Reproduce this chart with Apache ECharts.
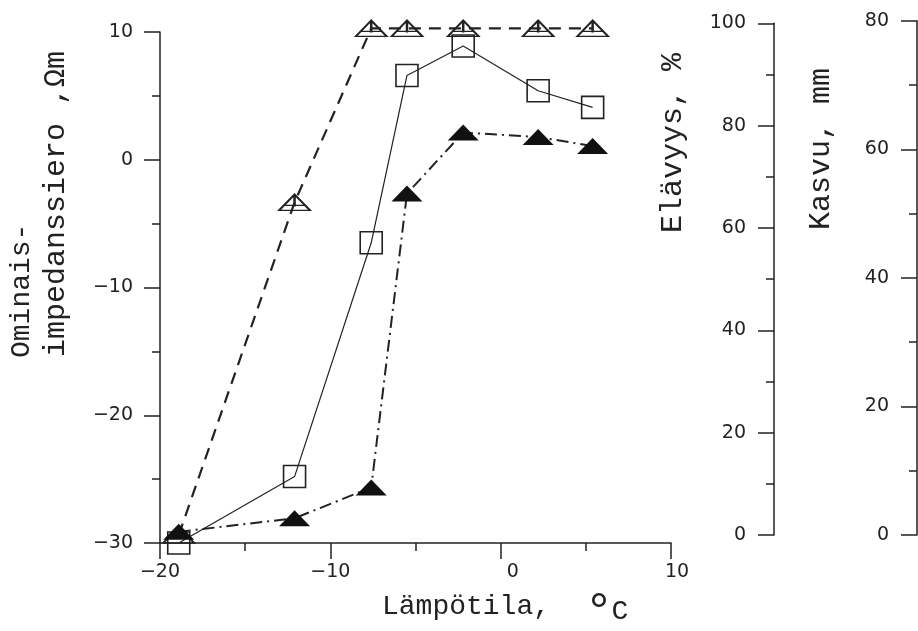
<!DOCTYPE html>
<html>
<head>
<meta charset="utf-8">
<script src="https://cdn.jsdelivr.net/npm/echarts@6/dist/echarts.min.js"></script>
<style>
  html, body { margin: 0; padding: 0; background: #fff; }
  #chart { width: 918px; height: 631px; }
</style>
</head>
<body>
<div id="chart"></div>
<script>
// ---- data ----
const temperature = [-18.9, -12.1, -7.6, -5.5, -2.2, 2.2, 5.4];      // Lämpötila, °C
const impedance   = [-30, -24.8, -6.5, 6.6, 8.9, 5.4, 4.1];          // Ominais-impedanssiero, Ωm (squares)
const survival    = [0, 65, 99, 99, 99, 99, 99];                     // Elävyys, % (open triangles)
const growth      = [0.5, 2.6, 7.4, 53.1, 62.6, 61.9, 60.5];         // Kasvu, mm (filled triangles)

const xTicks = [-20, -10, 0, 10];
const impTicks = [-30, -20, -10, 0, 10];
const survTicks = [0, 20, 40, 60, 80, 100];
const growTicks = [0, 20, 40, 60, 80];

const ink = '#222';
const labelFont = { color: ink, fontFamily: 'DejaVu Sans', fontSize: 19 };
const titleFont = '28px "Liberation Mono"';
const titleFontL = '30px "Liberation Mono"';

function minus(v) { return String(v).replace('-', '\u2212'); }
function pad3(v) {
  let s = minus(v);
  while (s.length < 3) s = '\u2007' + s;
  return s;
}
function pairs(xs, ys) { return xs.map((x, i) => [x, ys[i]]); }

const chart = echarts.init(document.getElementById('chart'), null, { renderer: 'canvas' });

function axisStyle() {
  return {
    axisLine: { show: true, onZero: false, lineStyle: { color: ink, width: 1.5 } },
    axisTick: { show: true, inside: false, length: 16, lineStyle: { color: ink, width: 1.5 } },
    minorTick: { show: true, splitNumber: 2, length: 8, lineStyle: { color: ink, width: 1.5 } },
    splitLine: { show: false },
    minorSplitLine: { show: false }
  };
}

const option = {
  animation: false,
  backgroundColor: '#fff',
  grid: [
    { left: 160, right: 247, top: 32, bottom: 88, containLabel: false, outerBoundsMode: 'none' },
    { left: 774, width: 10, top: 23.3, bottom: 96, containLabel: false, outerBoundsMode: 'none' },
    { left: 917, width: 1, top: 20.7, bottom: 96, containLabel: false, outerBoundsMode: 'none' }
  ],
  xAxis: [
    Object.assign({
      type: 'value', gridIndex: 0, min: xTicks[0], max: xTicks[xTicks.length - 1], interval: 10,
      position: 'bottom',
      axisLabel: Object.assign({ margin: 20, formatter: v => pad3(v) }, labelFont)
    }, axisStyle()),
    { type: 'value', gridIndex: 1, show: false, min: 0, max: 1 },
    { type: 'value', gridIndex: 2, show: false, min: 0, max: 1 }
  ],
  yAxis: [
    Object.assign({
      type: 'value', gridIndex: 0, min: impTicks[0], max: impTicks[impTicks.length - 1], interval: 10,
      position: 'left',
      axisLabel: Object.assign({ margin: 27, formatter: v => minus(v) }, labelFont)
    }, axisStyle()),
    // hidden scales in the plot area matching the right-hand axes
    { type: 'value', gridIndex: 0, show: false, min: -1.563, max: 98.30 },
    { type: 'value', gridIndex: 0, show: false, min: -1.244, max: 78.24 },
    Object.assign({
      type: 'value', gridIndex: 1, min: survTicks[0], max: survTicks[survTicks.length - 1], interval: 20,
      position: 'left',
      axisLabel: Object.assign({ margin: 28 }, labelFont)
    }, axisStyle()),
    Object.assign({
      type: 'value', gridIndex: 2, min: growTicks[0], max: growTicks[growTicks.length - 1], interval: 20,
      position: 'left',
      axisLabel: Object.assign({ margin: 28 }, labelFont)
    }, axisStyle())
  ],
  series: [
    {
      name: 'Elävyys', type: 'line', xAxisIndex: 0, yAxisIndex: 1,
      data: pairs(temperature, survival),
      clip: false,
      symbol: 'path://M0,16L16,0L32,16Z M16,0L16,12 M5,11L27,11',
      symbolSize: [31, 16],
      itemStyle: { color: 'rgba(255,255,255,0)', borderColor: ink, borderWidth: 1.8 },
      lineStyle: { color: ink, width: 2.2, type: [12, 8] },
      z: 3
    },
    {
      name: 'Ominais-impedanssiero', type: 'line', xAxisIndex: 0, yAxisIndex: 0,
      data: pairs(temperature, impedance),
      clip: false,
      symbol: 'rect', symbolSize: 22,
      itemStyle: { color: 'rgba(255,255,255,0)', borderColor: ink, borderWidth: 1.6 },
      lineStyle: { color: ink, width: 1.2, type: 'solid' },
      z: 4
    },
    {
      name: 'Kasvu', type: 'line', xAxisIndex: 0, yAxisIndex: 2,
      data: pairs(temperature, growth),
      clip: false,
      symbol: 'triangle', symbolSize: [31, 16],
      itemStyle: { color: '#111', borderColor: '#111', borderWidth: 0 },
      lineStyle: { color: ink, width: 2, type: [12, 5, 2, 5] },
      z: 5
    }
  ],
  graphic: [
    { type: 'text', x: 22, y: 358, rotation: Math.PI / 2,
      style: { text: 'Ominais-', font: titleFont, fill: ink, align: 'left', verticalAlign: 'middle' } },
    { type: 'text', x: 56, y: 357, rotation: Math.PI / 2,
      style: { text: 'impedanssiero ,Ωm', font: titleFontL, fill: ink, align: 'left', verticalAlign: 'middle' } },
    { type: 'text', x: 673, y: 233, rotation: Math.PI / 2,
      style: { text: 'Elävyys, %', font: titleFontL, fill: ink, align: 'left', verticalAlign: 'middle' } },
    { type: 'text', x: 821, y: 230, rotation: Math.PI / 2,
      style: { text: 'Kasvu, mm', font: titleFontL, fill: ink, align: 'left', verticalAlign: 'middle' } },
    { type: 'text', x: 382, y: 607,
      style: { text: 'Lämpötila,', font: titleFont, fill: ink, align: 'left', verticalAlign: 'middle' } },
    { type: 'text', x: 599, y: 614,
      style: { text: '°', font: '50px "Liberation Mono"', fill: ink, align: 'center', verticalAlign: 'middle' } },
    { type: 'text', x: 620, y: 612,
      style: { text: 'C', font: titleFont, fill: ink, align: 'center', verticalAlign: 'middle' } }
  ]
};

chart.setOption(option);
</script>
</body>
</html>
